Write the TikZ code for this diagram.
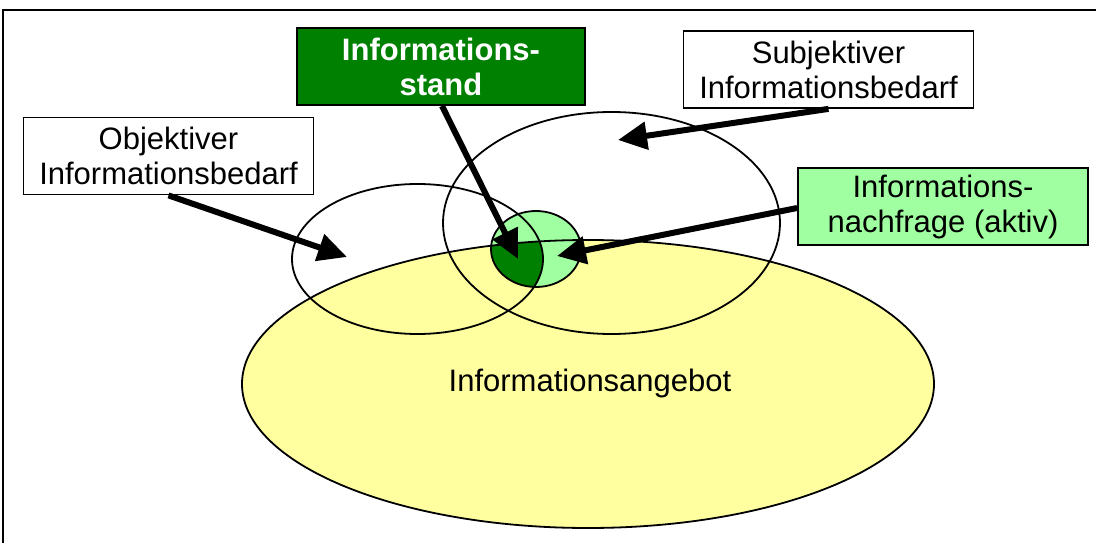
\documentclass[tikz,border=0pt]{standalone}
\usepackage{fontspec}
\setmainfont{Liberation Sans}
\usetikzlibrary{arrows.meta}
\definecolor{dgreen}{RGB}{0,128,0}
\definecolor{lgreen}{RGB}{160,255,160}
\definecolor{lyellow}{RGB}{255,255,160}
\begin{document}
\begin{tikzpicture}[x=1pt,y=-1pt,
  box/.style={draw=black, line width=1.8pt, inner sep=0pt, minimum width=290pt, minimum height=77pt, align=center, font=\fontsize{31}{35}\selectfont},
  ell/.style={draw=black, line width=1.8pt},
  arr/.style={line width=6pt, -{Triangle[length=29pt,width=27pt]}}]
\useasboundingbox (0,0) rectangle (1096,543);
% frame
\draw[line width=1.4pt] (3,543) -- (3,10) -- (1096,10);
% fills
\fill[lyellow] (588,384) ellipse [x radius=346, y radius=144];
\fill[lgreen] (536,249) ellipse [x radius=45, y radius=38];
\begin{scope}
  \clip (536,249) ellipse [x radius=45, y radius=38];
  \clip (417.5,259) ellipse [x radius=125.5, y radius=75];
  \clip (588,384) ellipse [x radius=346, y radius=144];
  \fill[dgreen] (480,200) rectangle (600,300);
\end{scope}
% outlines
\draw[ell] (588,384) ellipse [x radius=346, y radius=144];
\draw[ell] (417.5,259) ellipse [x radius=125.5, y radius=75];
\draw[ell] (611.5,223) ellipse [x radius=168.5, y radius=111];
\draw[ell] (536,249) ellipse [x radius=45, y radius=38];
% label
\node[font=\fontsize{31}{35}\selectfont] (angebot) at (590,383) {Informationsangebot};
% boxes
\node[box, fill=white] (obj) at (168.5,156) {Objektiver\\Informationsbedarf};
\node[box, fill=dgreen, text=white, font=\fontsize{31}{35}\selectfont\bfseries, minimum width=288pt] (stand) at (441,66.5) {Informations-\\stand};
\node[box, fill=white] (subj) at (828.5,69.5) {Subjektiver\\Informationsbedarf};
\node[box, fill=lgreen] (nach) at (943,206.5) {Informations-\\nachfrage (aktiv)};
% arrow tips
\coordinate (tobj) at (347,257);
\coordinate (tstand) at (518,259);
\coordinate (tsubj) at (618,140);
\coordinate (tnach) at (557,256);
% arrows
\draw[arr] (obj.south) -- (tobj);
\draw[arr] ([xshift=1pt]stand.south) -- (tstand);
\draw[arr] (subj.south) -- (tsubj);
\draw[arr] ([yshift=-1.5pt]nach.west) -- (tnach);
\end{tikzpicture}
\end{document}
